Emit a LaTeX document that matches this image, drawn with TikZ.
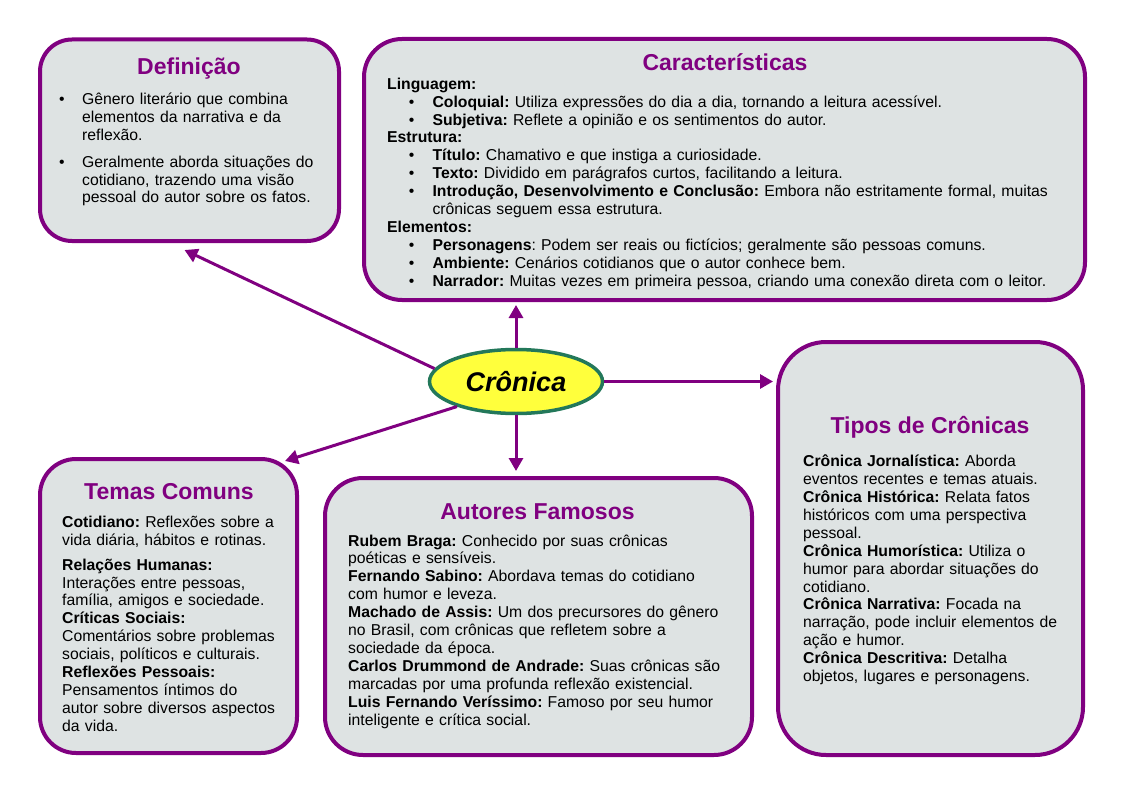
\documentclass[tikz,border=0pt]{standalone}
\usepackage{fontspec}
\setmainfont{Liberation Sans}
\usetikzlibrary{positioning, shapes.geometric, arrows.meta}
\frenchspacing

\definecolor{roxo}{RGB}{128,0,128}
\definecolor{cinza}{RGB}{222,227,227}
\definecolor{amarelo}{RGB}{255,255,60}
\definecolor{verde}{RGB}{35,120,90}

% bullet line: #1 = bullet indent, #2 = text indent
\newcommand{\bul}[2]{\noindent\hangindent=#2\hangafter=1\hspace*{#1}\makebox[\dimexpr#2-#1\relax][l]{\textbullet}}

\tikzset{
    caixa/.style={draw=roxo, fill=cinza, line width=4pt, rounded corners=#1, inner sep=0pt},
    caixa/.default=36pt,
    titulo/.style={text=roxo, font=\fontsize{23}{27}\selectfont\bfseries, anchor=base, inner sep=0pt},
    texto/.style={font=\fontsize{15.75}{17.9}\selectfont, anchor=base west, align=left, inner sep=0pt, text width=#1},
    seta/.style={draw=roxo, line width=3pt, -{Triangle[length=13pt, width=14pt]}}
}

\begin{document}
\begin{tikzpicture}[x=1pt, y=-1pt]
    \useasboundingbox (0,0) rectangle (1123,794);

    % Boxes
    \node[caixa=32pt, minimum width=299pt, minimum height=201.5pt] (def) at (189.5,140.25) {};
    \node[caixa=38pt, minimum width=721pt, minimum height=261pt] (car) at (724.5,169.5) {};
    \node[caixa=48pt, minimum width=305pt, minimum height=413pt] (tip) at (930.5,548.5) {};
    \node[caixa=36pt, minimum width=257pt, minimum height=294pt] (tem) at (168.5,606) {};
    \node[caixa=38pt, minimum width=427pt, minimum height=277pt] (aut) at (538.5,616.5) {};

    % Central node
    \node[ellipse, draw=verde, fill=amarelo, line width=3.5pt, minimum width=173pt, minimum height=64pt,
          inner sep=0pt, font=\fontsize{27}{30}\selectfont\bfseries\itshape] (cron) at (516,381.5) {Crônica};

    % Arrows
    \draw[seta] (cron.171) -- ([shift={(-5pt,-7pt)}]def.south);
    \draw[seta, shorten >=3pt] (cron.north) -- (cron.north |- car.south);
    \draw[seta, shorten >=3pt] (cron.east) -- (cron.east -| tip.west);
    \draw[seta, shorten >=5pt] (cron.south) -- (cron.south |- aut.north);
    \draw[seta] (cron.203) -- ([shift={(-14pt,-4pt)}]tem.north east);

    % Titles
    \node[titulo] (defT) at (189,75) {Definição};
    \node[titulo] (carT) at (725,70.7) {Características};
    \node[titulo] (tipT) at (930,433.3) {Tipos de Crônicas};
    \node[titulo] (temT) at (169,499.3) {Temas Comuns};
    \node[titulo] (autT) at (537.5,519) {Autores Famosos};

    % Definicao
    \node[texto=270pt] (defX) at (59,105) {%
        \bul{0pt}{23pt}Gênero literário que combina\newline elementos da narrativa e da\newline reflexão.%
        \par\vspace{8.5pt}%
        \bul{0pt}{23pt}Geralmente aborda situações do\newline cotidiano, trazendo uma visão\newline pessoal do autor sobre os fatos.\par};

    % Caracteristicas
    \node[texto=690pt] (carX) at (387,89.3) {%
        \textbf{Linguagem:}
        \par\bul{21.6pt}{45.4pt}\textbf{Coloquial:} Utiliza expressões do dia a dia, tornando a leitura acessível.
        \par\bul{21.6pt}{45.4pt}\textbf{Subjetiva:} Reflete a opinião e os sentimentos do autor.
        \par\textbf{Estrutura:}
        \par\bul{21.6pt}{45.4pt}\textbf{Título:} Chamativo e que instiga a curiosidade.
        \par\bul{21.6pt}{45.4pt}\textbf{Texto:} Dividido em parágrafos curtos, facilitando a leitura.
        \par\bul{21.6pt}{45.4pt}\textbf{Introdução, Desenvolvimento e Conclusão:} Embora não estritamente formal, muitas\newline crônicas seguem essa estrutura.
        \par\textbf{Elementos:}
        \par\bul{21.6pt}{45.4pt}\textbf{Personagens}: Podem ser reais ou fictícios; geralmente são pessoas comuns.
        \par\bul{21.6pt}{45.4pt}\textbf{Ambiente:} Cenários cotidianos que o autor conhece bem.
        \par\bul{21.6pt}{45.4pt}\textbf{Narrador:} Muitas vezes em primeira pessoa, criando uma conexão direta com o leitor.\par};

    % Temas
    \node[texto=235pt] (temX) at (62,527.3) {%
        \textbf{Cotidiano:} Reflexões sobre a\newline vida diária, hábitos e rotinas.%
        \par\vspace{7pt}%
        \textbf{Relações Humanas:}\newline Interações entre pessoas,\newline família, amigos e sociedade.\newline
        \textbf{Críticas Sociais:}\newline Comentários sobre problemas\newline sociais, políticos e culturais.\newline
        \textbf{Reflexões Pessoais:}\newline Pensamentos íntimos do\newline autor sobre diversos aspectos\newline da vida.};

    % Autores
    \node[texto=400pt] (autX) at (348,546) {%
        \textbf{Rubem Braga:} Conhecido por suas crônicas\newline poéticas e sensíveis.\newline
        \textbf{Fernando Sabino:} Abordava temas do cotidiano\newline com humor e leveza.\newline
        \textbf{Machado de Assis:} Um dos precursores do gênero\newline no Brasil, com crônicas que refletem sobre a\newline sociedade da época.\newline
        \textbf{Carlos Drummond de Andrade:} Suas crônicas são\newline marcadas por uma profunda reflexão existencial.\newline
        \textbf{Luis Fernando Veríssimo:} Famoso por seu humor\newline inteligente e crítica social.};

    % Tipos
    \node[texto=270pt] (tipX) at (803,466.7) {%
        \textbf{Crônica Jornalística:} Aborda\newline eventos recentes e temas atuais.\newline
        \textbf{Crônica Histórica:} Relata fatos\newline históricos com uma perspectiva\newline pessoal.\newline
        \textbf{Crônica Humorística:} Utiliza o\newline humor para abordar situações do\newline cotidiano.\newline
        \textbf{Crônica Narrativa:} Focada na\newline narração, pode incluir elementos de\newline ação e humor.\newline
        \textbf{Crônica Descritiva:} Detalha\newline objetos, lugares e personagens.};
\end{tikzpicture}
\end{document}
